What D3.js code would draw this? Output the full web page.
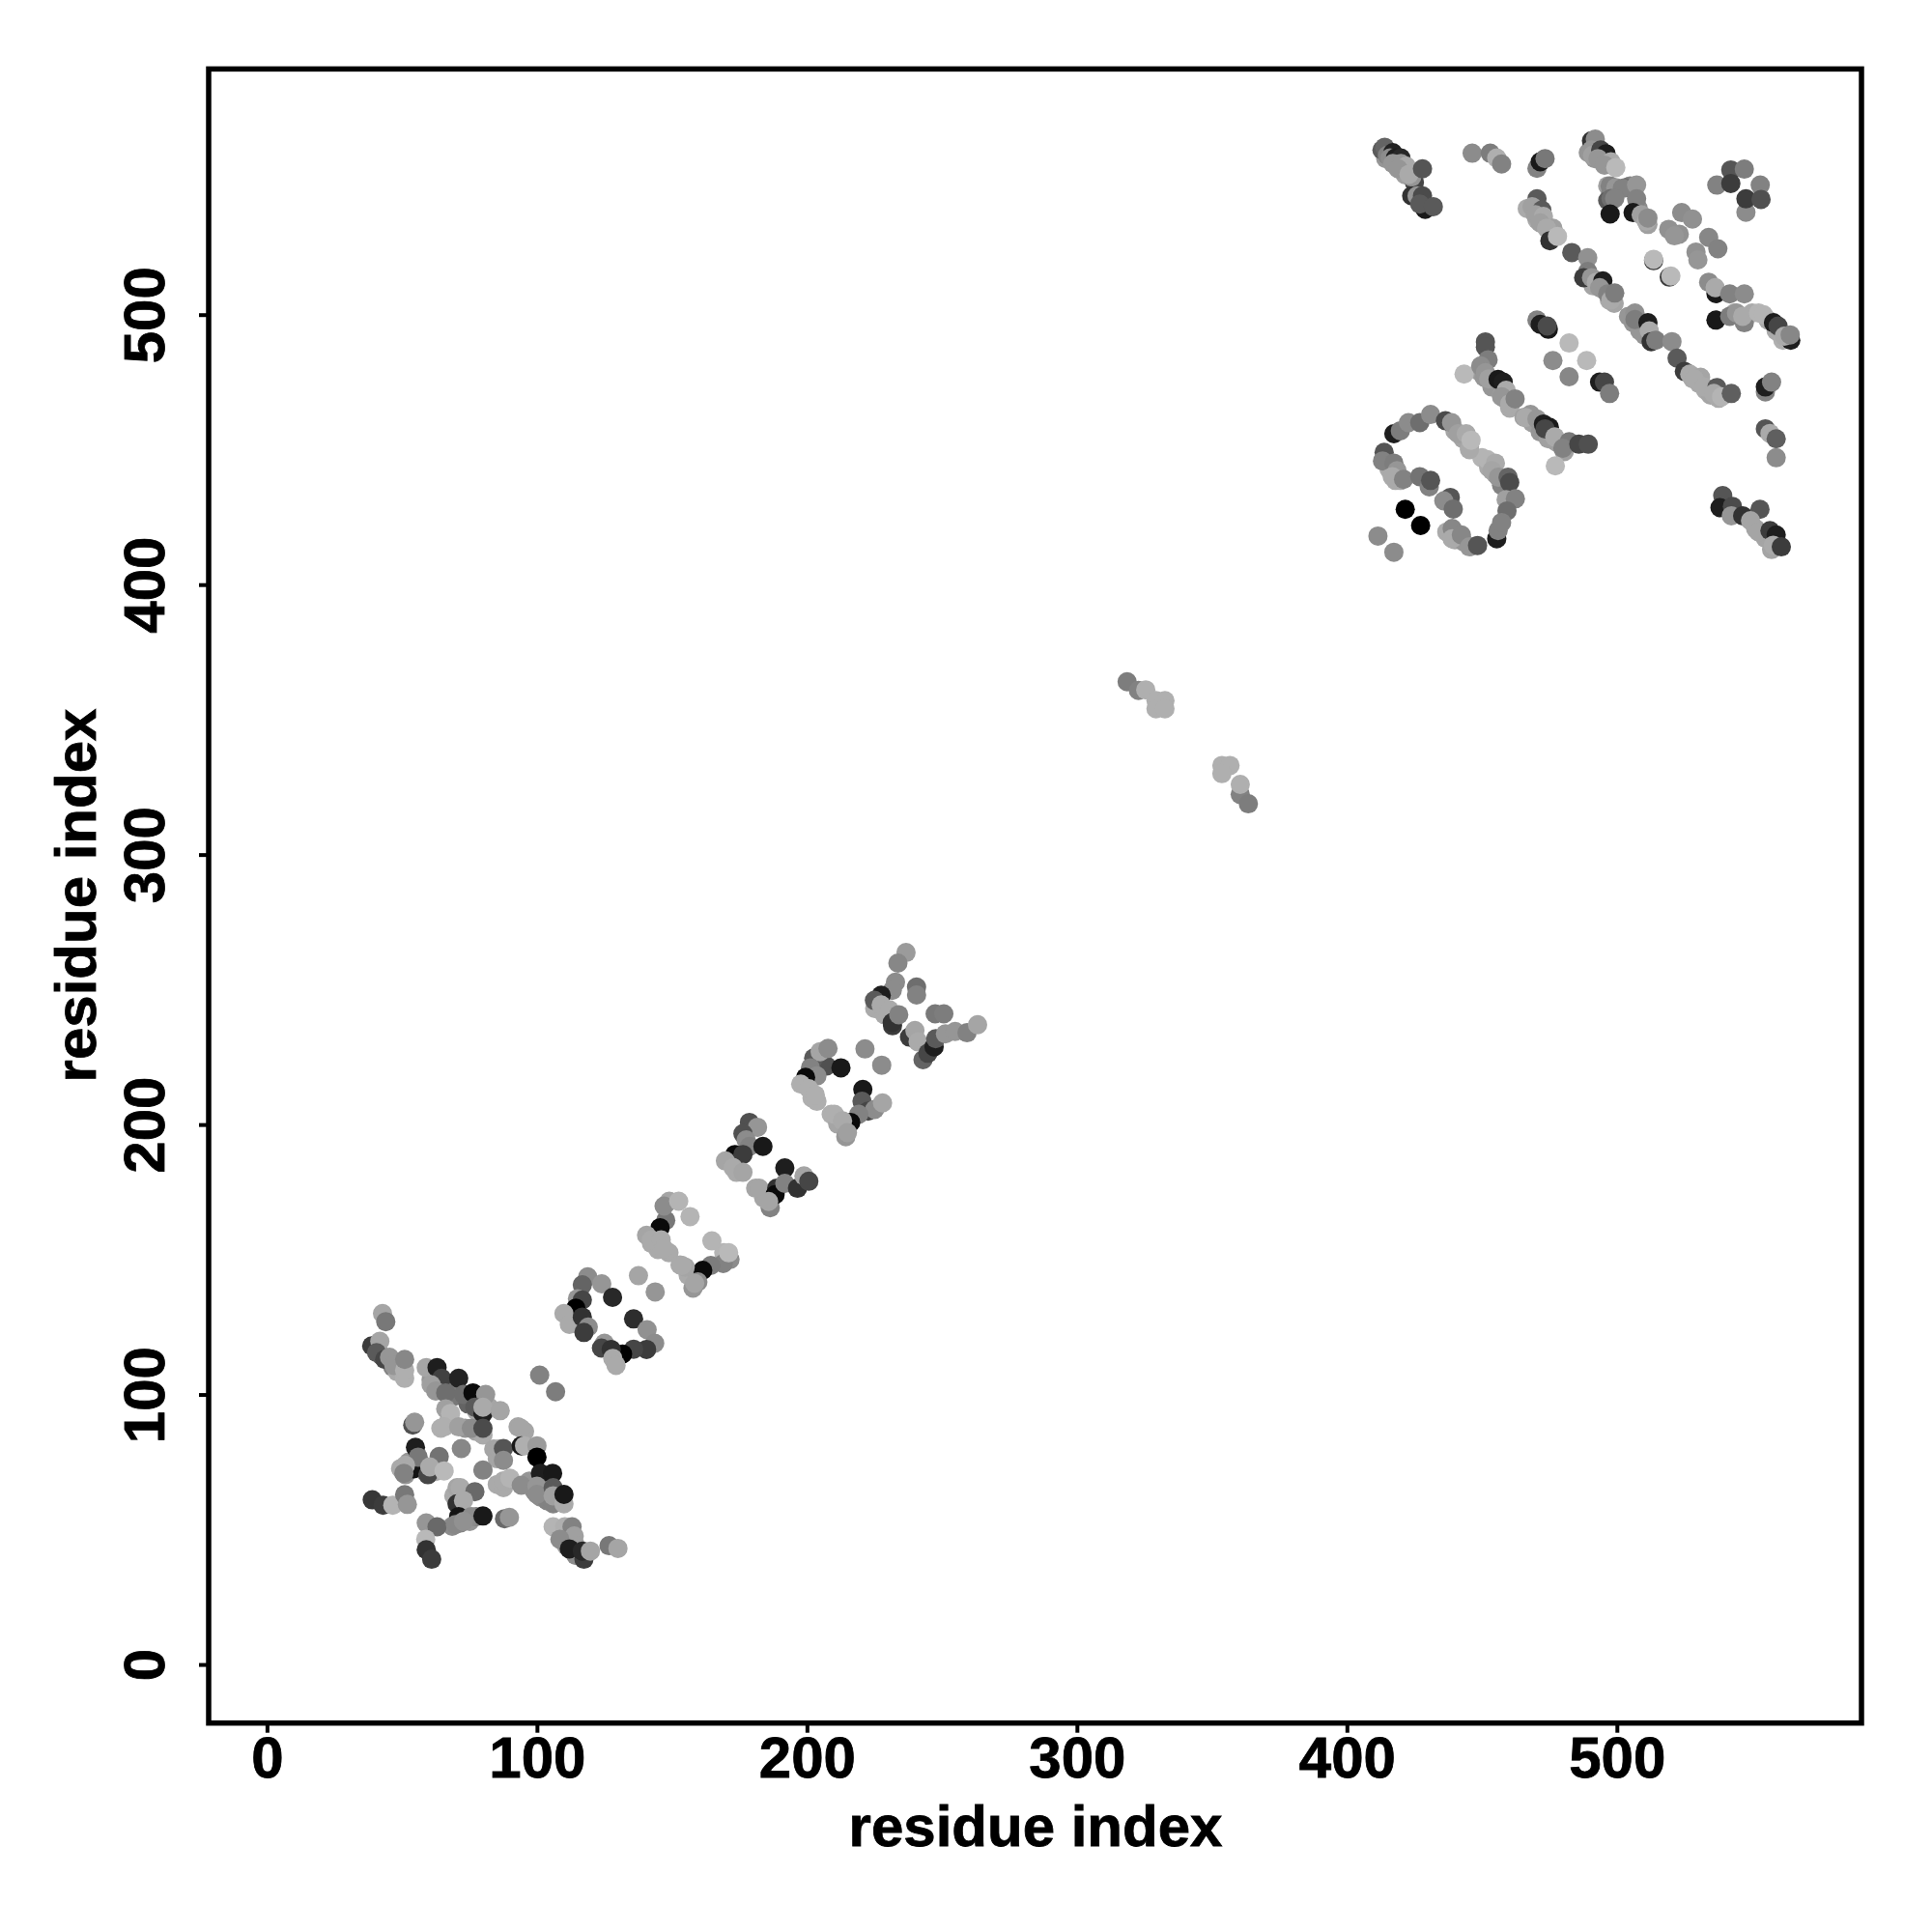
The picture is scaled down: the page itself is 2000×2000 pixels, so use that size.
<!DOCTYPE html>
<html><head><meta charset="utf-8">
<style>html,body{margin:0;padding:0;background:#fff}svg{display:block}text{font-family:"Liberation Sans",Arial,sans-serif;font-weight:700;fill:#000}</style>
<script src="https://cdn.jsdelivr.net/npm/d3@7/dist/d3.min.js"></script>
</head><body><svg id="c" width="2000" height="2000"></svg>
<script>
// each contact: [residue i, residue j, score]
const tickValues=[0,100,200,300,400,500];
const axisLabel="residue index";
const underKnot=[[60.8,105.4,150],[62.6,102.4,150],[68,102.4,120],[69.8,99.4,120],[74.5,96.5,100],[77.5,94,170],[82.3,95.3,165],[67.4,90.5,175],[64.4,87.5,175],[73.4,87.5,150],[77.5,86.3,165],[80,85,170],[95.4,86.3,165],[93,88,165],[84,79.8,165],[85.3,76.2,165],[85.3,66.7,170],[87.6,65.5,170],[97.2,67.9,150],[99,64.3,140],[101.3,62,140],[103.7,60.7,130],[106,59.5,130],[103.7,65.5,160],
[49.5,72.6,170],[51.3,70.3,150],[52.5,75,150],[57.3,73.8,130],[58.5,71.5,160],[62.6,71.5,170],[69.2,62.5,170],[70.4,65.5,165],[71.6,60.7,160],[68.6,51.2,140],[71.6,52.4,130],[75.1,53,150],[77.5,54.8,130],[109.7,46.4,150],[110.9,44,160],[114.4,40.4,140],[113.2,44,170],[42.4,114.4,100],[46.6,110.2,130],[48.3,108.4,170]];
const underStrands=[[142.4,156,170],[144.8,153.7,170],[148.9,152.5,170],[153,148,170],[156,144.2,170],[157.8,139.4,150],[169.2,152.5,180],[171.5,150,140],[171.5,186,170],[173.9,182.3,170],[181,176.4,165],[184,172.8,165],[186.4,169.2,130],[199,215.7,170],[201.9,209.8,175],[203.7,208.6,175],[209,203.8,175],[211.4,200.2,165],[214.4,195.5,150],[225.1,243,170],[228.7,240.7,170],[231.7,236.6,60],[240.6,231.2,170],[243,224,100]];
const underCorner=[[414.4,557.8,150],[418,555.4,150],[421.6,551.8,160],[489.4,560,150],[491.8,557.8,150],[496.6,547.7,160],[497.8,545.3,130],[496.6,542.3,90],[504.9,547.7,130],[507.9,539.3,140],[511.5,533.4,160],
[466.8,539.3,170],[470.4,535.2,170],[473.4,533.4,175],[476.3,529.2,175],[476.3,531.6,160],[491.2,510.7,165],[495.4,509,165],[497.2,505.4,170],[499,504.2,165],[506.1,497,150],[508.5,494,150],[510.3,492.3,150],[528.1,476.2,170],[530.5,474.4,170],[532.9,472,170],[534.7,470.2,165],[537.7,469,170],[550.1,500.6,170],[556,498,170],[559,494,170],[561.5,490.5,175],[543.6,500.6,165],
[449,479,160],[450.8,476.8,150],[453.7,473.2,150],[457.3,470,160],[459,468.4,170],[460.3,465.4,170],[465.6,462,160],[468.6,460,160],[471.6,456.5,150],[474.6,454,160],[477.5,452.9,160],[480.5,449.3,160],
[415.6,442.8,170],[418,438.6,170],[419.8,438.6,170],[440,457,165],[443,454,165],[445.4,451,165],[450,447,180],[452.5,443.4,170],[455,441,160],[457.3,436.8,130],[437,419.5,170],[440,416.6,165],[443,416,150],[549,424.3,165],[551.4,420.7,165],[555,417.2,165],[557.3,413,165]];
const knot=[[42.8,130,165],[44,127,120],[38.8,118,60],[41.8,119.7,165],[40.6,115.5,90],[43.6,113,70],[45.4,113.8,150],[47,110.8,150],[51,106,175],[51,109,175],[51,113,135],
[59,110,165],[63,110,30],[64.7,106,65],[71,106,35],[60.8,103.6,160],[62.5,101.3,150],[66.2,100.6,110],[72.8,100,110],[76.3,100.6,10],[81,100,150],[77,95.3,90],[80,92.9,30],[80,95.3,170],[86.4,94,165],[66.2,94.7,160],[68,93,180],[65.6,88,175],[71,88,160],[75.7,87.5,140],[80,87.5,75],
[54,88.7,80],[54.7,89.7,150],[55,80.4,30],[54.3,72.5,20],[56,76.8,120],[51.3,73.8,170],[50.7,70.8,130],[59.6,70.3,70],[63.8,77,115],[60.3,73.2,170],[65.6,71.7,185],
[72,80,135],[80,72,130],[85.8,79.8,165],[87.6,80,85],[87.6,75.6,140],[87.6,68,170],[90,69,180],[94.2,66.4,140],[94,87.5,165],
[94.2,81,25],[95.4,81,175],[100,81,155],[100,76.8,0],[101.3,70.8,30],[105.8,70.8,25],[100,66,150],[100,63,140],[106,65.5,90],[106,62.5,160],[110,59.5,170],[110,63,25],
[39,61,55],[43,59,60],[46.6,59,180],[51,62.9,120],[52,59.3,150],[59,52.4,150],[63,51,105],[58.8,46.4,185],[59,42.5,50],[61,39,60],
[71.6,65.5,170],[77,64,105],[70.4,59.5,50],[72.8,60.7,170],[71,54.8,20],[69.8,51.8,135],[75.7,54.8,140],[72.8,53,145],[80,55,25],[88,54,105],[89.8,54.5,150],
[106,51,180],[110.3,51,175],[113,51,130],[113.8,47.6,160],[108.5,46.4,140],[114.4,44,160],[112,42.8,30],[117.4,39,60],[116.8,42,40],[119.8,42,165],[126.7,44,120],[130,43,165],
[101,107.2,130],[106.9,101,125]];
const strandB=[[118.8,143.6,140],[116.8,140.6,100],[124,141,150],[128,136,40],[115,135.5,150],[116.8,135,70],[114.4,132,0],[110,130,170],[112,126,170],[116.8,128.7,50],[119,125,140],[117.4,123,60],
[135.8,128,45],[140.8,124,145],[143.6,119,140],[140.6,116.7,60],[135.8,116.8,70],[131.7,115,0],[125,119,150],[123.9,117.2,70],[127.5,116.7,50],[128.1,113.4,170],[129.3,110.8,170],[137.6,144,165],[143.8,138,150]];
const strandC=[[147.7,164.5,120],[145.6,161.8,10],[149,171.6,165],[147.1,169.8,140],[152.5,171.6,180],[156.7,165.9,180],[140.6,159,165],[142.4,157.3,170],[146,157.3,170],[147,154,170],[164.8,156.9,180],[169,148.5,130],[164.4,147.8,125],[171,152.5,185],[161.4,146,10],[154.9,147.2,165],[153.7,147.8,170],[159.6,141.7,140],[158.4,141.2,165]];
const strandD=[[178.7,200.8,80],[181.7,199,150],[176.3,196.6,80],[177.5,194.3,140],[178.7,191.9,130],[183.7,191.9,25],[173.3,188.9,10],[176.3,188.9,60],[169.8,186.5,165],[172.7,184,170],[176.3,182.3,165],[191.8,183.9,30],[182.3,176.4,165],[188.8,176.4,50],[188.2,174,10],[185.8,171.5,165],[191.8,178.2,130],[196.5,176.4,50],[198.9,181,165],[200.7,179,70]];
const strandE=[[207.3,221.7,80],[202.5,224.6,90],[204.9,227,165],[207.8,228.2,140],[212.6,221,25],[201.3,221,130],[203.7,218,140],[199.5,217.5,10],[197.7,215,175],[200.7,213.3,175],[203.1,211,175],[221.5,228,140],[227.7,222,140],[220.7,213,25],[220.4,208.6,90],[222.7,205,70],[225.1,205.6,140],[228,208,165],[219.2,203.8,130],[216.2,200.8,10],[210.2,203.8,175],[213.2,201.4,170],[215,197,160]];
const strandF=[[236.7,263.7,155],[233.7,259.8,135],[232.8,252.7,140],[231.6,249.7,140],[227.5,247.9,30],[225,246,90],[227.5,244.3,170],[230.5,242.5,170],[231.6,237.8,50],[234,240.7,130],[240.6,250.9,110],[240.6,248,130],[247.5,241,120],[250.7,241,125],[238,232.4,60],[240,234.8,165],[241.2,230.6,170],[244.8,226.4,70],[247.1,228.8,30],[247.7,231.8,90],[251.3,233.6,150],[254.9,234.5,150],[259.3,234,130],[263.2,237,165]];
const bridge=[[318.6,364,125],[322.8,360.8,130],[325.5,361,175],[329.3,357,175],[332.6,357,175],[329.3,354,175],[332.6,354,175],[353.7,333,175],[356.7,333,175],[353.7,330,175],[360.5,322.3,130],[360.5,326,175],[363.5,318.8,125]];
const cornerA=[[413,561,90],[414,562,100],[415,559,130],[417,560,35],[416,558,140],[418,558,30],[420,558,40],[417,556,150],[420,556,150],[422,555,170],[419,554,150],[425,549,70],[424,551,150],[423,552,170],[428,554,85],[424,544,50],[426,544,150],[429,539,25],[428,544,75],[427,541,90],[432,540,90],
[446.4,559.8,140],[453.1,559.8,125],[455.5,558,175],[457.3,555.8,130],[470.4,554.2,130],[471.6,556.6,25],[473.4,557.8,120]];
const cornerB=[[490.6,564.4,50],[492,565,140],[490.6,561,150],[491,559,160],[494,561,70],[496,559.6,30],[493,557.8,150],[497.8,556.6,170],[495.4,555.4,150],[499.6,554.5,185],[497.5,547.7,130],[499.6,547,150],[503.1,547,110],[502,546.8,130],[507.3,548,150],[497.8,543,110],[499.2,543,130],[497.5,537.3,25],[507.3,542.9,130],[506,537.8,25],[509,537,160],[510.9,534.6,170],[511.5,535.8,140],
[470.4,542.9,90],[468.6,540,160],[472.2,538.7,90],[469.8,537,160],[472.8,536.4,170],[471.6,534,160],[476.3,532,160],[474,532,170],[475.2,527.4,50],[478,529,185],[483.3,523,90],[489.2,521.1,145],[489.2,516,125],[487.7,513.7,60],[490.6,513.7,150],[492.4,512,170],[494.8,512.5,30],[493.6,510,150],[496.6,507.7,130],[497.8,505.4,170],[499.2,508,125],
[524,537.8,140],[528,535.4,145],[519.2,531.6,145],[523.1,529.8,145],[521.3,529.2,150],[534,528.6,135],[537.4,524.4,130],[529.3,523.2,145],[530,520.3,150],[513.6,520,50],[513.6,520.5,185],[519.4,513.9,60],[520,514.3,185],
[534,512,140],[536.7,507.8,25],[536.4,510,170],[541.8,507.7,130],[547.2,507.7,140],[536.7,498,25],[541.8,499.4,125],[544.3,500.6,150],[547.2,497,130],[546.6,499.4,170],[552.5,500.6,180],[554.3,500,180],[558,497,30],[559.7,495.8,70],[564.4,490.5,30],[562,492,170],[564.2,492.5,135],
[542.2,553.6,85],[547.2,553.9,125],[537,548,130],[542.2,548.6,60],[553.1,548,130],[547.8,537.9,140],[547.8,542.9,60],[553.4,542.7,80]];
const cornerC=[[504.3,499.4,150],[506.7,500.6,145],[506.7,498.2,125],[511.5,497,30],[512,494,170],[512.7,490,50],[514.4,490.5,125],[520.4,490,140],[522.3,483.9,90],[525,479,60],[527,478,170],[531,476.8,165],[528.7,476.2,170],[532.3,473.2,170],[537,473,90],[535.9,470.8,170],[538.8,469.6,180],[542.4,470.8,95],[555,471.4,130],[555,473.2,30],[557.3,475,130],
[470.4,498,130],[471.6,496.4,30],[474.6,494.6,25],[474.2,495.8,75],[482.3,489.5,185],[476.3,483,140],[488.8,483,185],[482.3,477,135],[493.6,475,30],[495.4,475,70],[497.3,470.8,125],
[451.3,489.9,85],[451.3,488,85],[452.3,483.3,125],[443.4,478,185],[449.6,481,140],[451.3,478.5,150],[452.5,476.2,160],[456,476,25],[457.9,475,30],[459,472,170],[457.3,469.6,150],[460.3,467,170],[462.3,468.8,130],
[468,463,150],[466.2,461.9,170],[470.4,461.3,150],[472.8,459.5,30],[475,458.3,25],[473.4,457.7,70],[477,454.7,170],[482.3,452.9,120],[480,450.5,130],[477.2,444,185],[485.9,452,70],[489.4,452,80]];
const cornerD=[[417.4,455.9,30],[419.8,457,125],[422.8,460,140],[427,460,110],[431,463,140],[436.5,460.7,75],[438.8,460,150],[441.2,455.9,160],[444.2,455.9,170],[445.4,450,170],[446,453.5,185],
[413.8,449,85],[413.2,445.8,130],[417.4,445,125],[418.6,442.2,150],[416.8,440,170],[421,439,130],[427,440,115],[430.5,436.2,130],[431,438.6,85],[421.6,427.9,0],[427.3,421.9,0],[411.5,418,140],[417.4,412,140],
[452,446.3,180],[455,445,170],[453.7,442.2,165],[456.1,439.8,150],[459.7,439.8,100],[460.3,437.8,75],[459,431.5,160],[462.4,431.8,130],[459.3,427.3,110],[455.5,417,30],[456,420,130],[457.3,423,130],
[438.3,432.3,85],[435.9,431,140],[439.4,428,110],[439,420.8,135],[439,417,170],[442.4,418.4,135],[445.4,414,150],[448.4,414.5,85],
[555,457.7,85],[556.7,456,170],[559,454,95],[559,447,140],
[539.2,433,85],[538.2,428.5,30],[542.8,429,75],[542.4,425.5,150],[546.6,425.5,50],[553,427.9,85],[549.5,423.7,165],[552.5,419.5,165],[556.7,420,60],[559,418.4,30],[557.9,414.6,170],[560.9,414,60]];

const contacts=[...underKnot,...underStrands,...underCorner,...knot,...strandB,...strandC,...strandD,...strandE,...strandF,...bridge,...cornerA,...cornerB,...cornerC,...cornerD];

const svg=d3.select("#c");
const x=d3.scaleLinear().domain([-21.6,590.6]).range([216,1927]);
const y=d3.scaleLinear().domain([-21.7,591]).range([1783.7,71.4]);
const gray=d3.scaleLinear().domain([0,255]).range(["#000","#fff"]);

svg.append("g").selectAll("circle").data(contacts).join("circle")
  .attr("cx",d=>x(d[0])).attr("cy",d=>y(d[1])).attr("r",10).attr("fill",d=>gray(d[2]));

svg.append("rect").attr("x",x.range()[0]).attr("y",y.range()[1])
  .attr("width",x.range()[1]-x.range()[0]).attr("height",y.range()[0]-y.range()[1])
  .attr("fill","none").attr("stroke","#000").attr("stroke-width",5.5);

const ax=svg.append("g").attr("transform",`translate(0,${y.range()[0]})`)
  .call(d3.axisBottom(x).tickValues(tickValues).tickSize(10).tickSizeOuter(0));
const ay=svg.append("g").attr("transform",`translate(${x.range()[0]},0)`)
  .call(d3.axisLeft(y).tickValues(tickValues).tickSize(10).tickSizeOuter(0));
[ax,ay].forEach(g=>{g.select(".domain").remove();
  g.selectAll("line").attr("stroke","#000").attr("stroke-width",4);
  g.selectAll("text").attr("font-size",60).attr("font-family",'"Liberation Sans"').attr("font-weight",700)
    .attr("stroke","#000").attr("stroke-width",0.8);});
ax.selectAll("text").attr("y",56).attr("dy","0");
ay.selectAll("text").attr("x",0).attr("y",0).attr("dy",null).attr("text-anchor","middle")
  .attr("transform","translate(-46,0) rotate(-90)");

svg.append("text").attr("x",1072).attr("y",1911).attr("text-anchor","middle").attr("font-size",60).attr("stroke","#000").attr("stroke-width",0.8).text(axisLabel);
svg.append("text").attr("transform","translate(99,927) rotate(-90)").attr("text-anchor","middle").attr("font-size",60).attr("stroke","#000").attr("stroke-width",0.8).text(axisLabel);
</script></body></html>
